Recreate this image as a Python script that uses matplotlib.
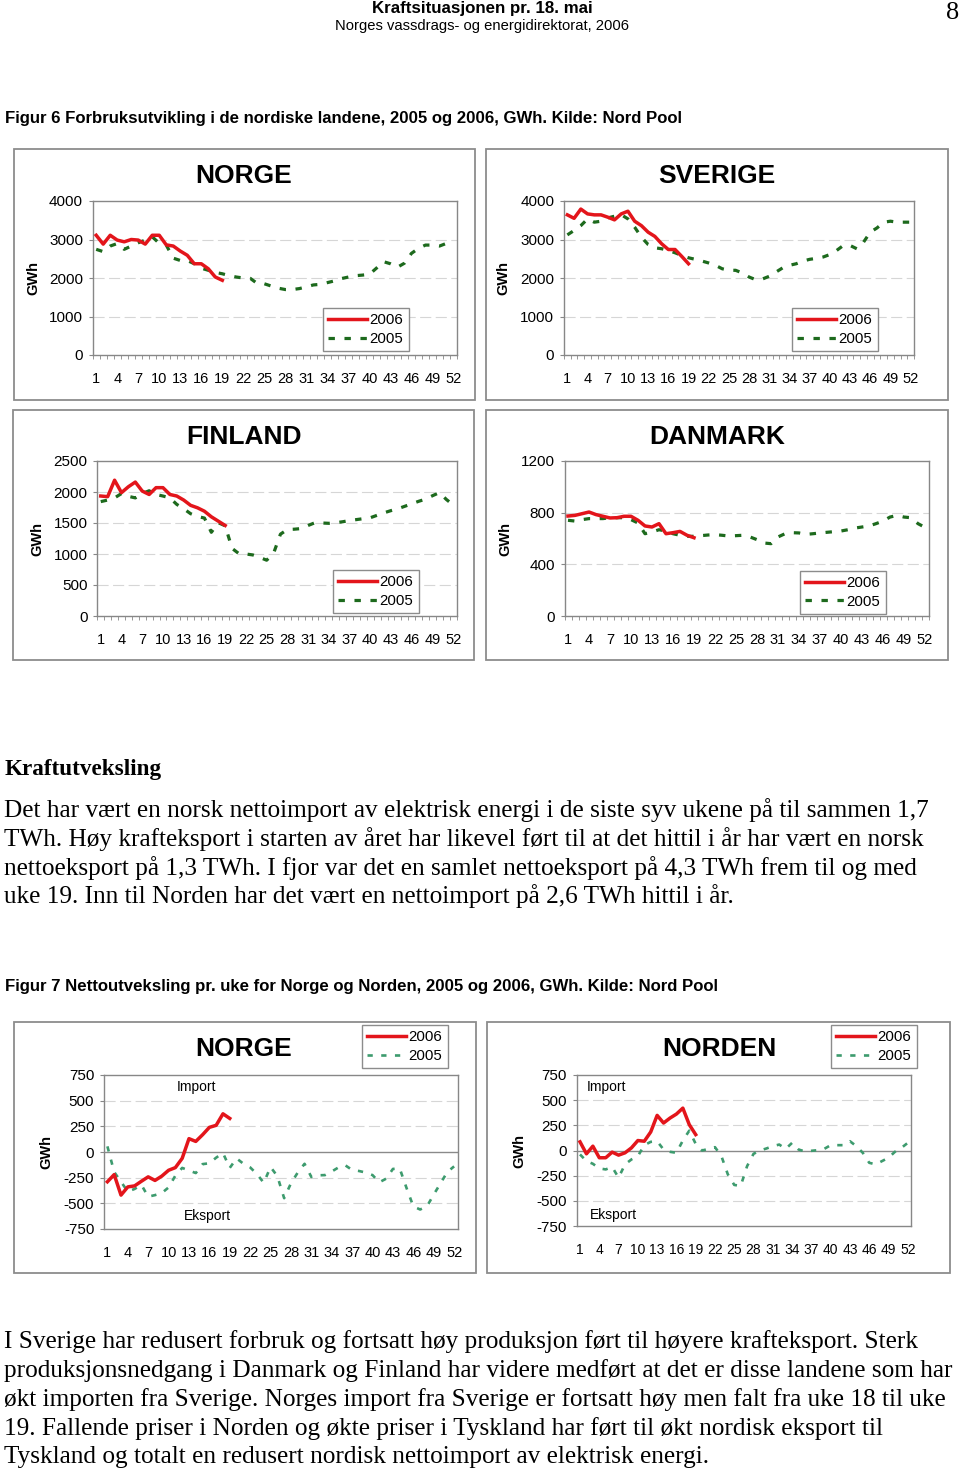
import numpy as np
import matplotlib.pyplot as plt
from matplotlib.patches import Rectangle

W, H = 960, 1474

uker = np.arange(1, 53)
uker_2006 = np.arange(1, 20)
x_ticks = np.arange(1, 53, 3)

# Figur 6: forbruk per uke, GWh
norge_2006 = [3110, 2880, 3110, 2985, 2940, 3000, 2985, 2880, 3110, 3110,
              2860, 2830, 2700, 2590, 2370, 2370, 2240, 2025, 1940]
norge_2005 = [2745, 2685, 2830, 2895, 2745, 2830, 2915, 2985, 3070, 2900,
              2855, 2515, 2455, 2455, 2370, 2255, 2200, 2145, 2110, 2060,
              2025, 2000, 1990, 1855, 1850, 1790, 1735, 1700, 1700, 1725,
              1770, 1820, 1835, 1880, 1925, 1985, 2025, 2060, 2075, 2095,
              2255, 2425, 2370, 2280, 2385, 2640, 2770, 2855, 2855, 2830,
              2900, 2985]

sverige_2006 = [3640, 3550, 3790, 3665, 3640, 3640, 3580, 3510, 3665, 3735,
                3475, 3360, 3190, 3080, 2890, 2740, 2740, 2560, 2370]
sverige_2005 = [3120, 3235, 3360, 3535, 3450, 3475, 3560, 3605, 3645, 3535,
                3320, 3060, 2870, 2785, 2760, 2715, 2655, 2585, 2525, 2485,
                2440, 2390, 2330, 2240, 2200, 2200, 2130, 2025, 1955, 1975,
                2045, 2155, 2265, 2330, 2370, 2440, 2485, 2510, 2545, 2610,
                2715, 2845, 2845, 2760, 2930, 3190, 3300, 3450, 3475, 3450,
                3450, 3450]

finland_2006 = [1935, 1925, 2190, 1990, 2085, 2160, 2015, 1960, 2070, 2070,
                1960, 1935, 1870, 1785, 1745, 1690, 1600, 1530, 1460]
finland_2005 = [1845, 1870, 1905, 1975, 1930, 1905, 1975, 2020, 1960, 1935,
                1905, 1800, 1730, 1650, 1605, 1580, 1350, 1505, 1455, 1090,
                1005, 1000, 985, 945, 900, 1010, 1320, 1395, 1400, 1410,
                1460, 1505, 1500, 1495, 1505, 1520, 1540, 1555, 1570, 1585,
                1625, 1665, 1700, 1730, 1770, 1810, 1850, 1885, 1940, 1990,
                1880, 1790]

danmark_2006 = [774, 779, 792, 805, 785, 772, 759, 761, 772, 772,
                741, 697, 689, 715, 637, 645, 655, 625, 606]
danmark_2005 = [741, 735, 746, 754, 754, 754, 761, 761, 761, 746,
                720, 637, 650, 668, 658, 637, 625, 617, 617, 622,
                627, 630, 625, 619, 622, 625, 612, 591, 565, 560,
                612, 637, 645, 643, 632, 637, 643, 648, 653, 658,
                668, 681, 689, 697, 715, 735, 766, 779, 766, 761,
                715, 686]

# Figur 7: nettoutveksling per uke, GWh
netto_norge_2006 = [-290, -220, -420, -340, -330, -285, -242, -277, -235, -178,
                    -152, -62, 130, 103, 168, 240, 260, 372, 327]
netto_norge_2005 = [55, -195, -290, -385, -360, -320, -435, -420, -400, -345,
                    -230, -155, -180, -205, -118, -110, -55, -10, -155, -62,
                    -114, -150, -215, -300, -146, -235, -450, -305, -200, -115,
                    -243, -227, -225, -190, -150, -130, -175, -185, -200, -225,
                    -295, -260, -165, -160, -350, -530, -560, -530, -415, -305,
                    -195, -140]

netto_norden_2006 = [86, -33, 43, -72, -72, -16, -46, -23, 26, 99,
                     92, 184, 349, 273, 322, 362, 421, 257, 158]
netto_norden_2005 = [-39, -105, -132, -178, -188, -164, -270, -138, -89, -56,
                     53, 86, 92, 10, -13, -23, 99, 197, 66, 0,
                     16, 33, -56, -237, -342, -352, -155, -33, 0, 20,
                     43, 59, 16, 76, 10, -10, -3, 3, 16, 53,
                     53, 53, 92, 43, -23, -122, -138, -105, -72, -13,
                     26, 76]

avsnitt_1 = [
    "Det har vært en norsk nettoimport av elektrisk energi i de siste syv ukene på til sammen 1,7",
    "TWh. Høy krafteksport i starten av året har likevel ført til at det hittil i år har vært en norsk",
    "nettoeksport på 1,3 TWh. I fjor var det en samlet nettoeksport på 4,3 TWh frem til og med",
    "uke 19. Inn til Norden har det vært en nettoimport på 2,6 TWh hittil i år.",
]
avsnitt_2 = [
    "I Sverige har redusert forbruk og fortsatt høy produksjon ført til høyere krafteksport. Sterk",
    "produksjonsnedgang i Danmark og Finland har videre medført at det er disse landene som har",
    "økt importen fra Sverige. Norges import fra Sverige er fortsatt høy men falt fra uke 18 til uke",
    "19. Fallende priser i Norden og økte priser i Tyskland har ført til økt nordisk eksport til",
    "Tyskland og totalt en redusert nordisk nettoimport av elektrisk energi.",
]

RED = '#e3151b'
GREEN = '#1d6a1d'
TEAL = '#3d9b6e'
GRID = '#d6d6d6'
FRAME = '#878787'
SERIF = 'Liberation Serif'
BODY = 18.2

plt.rcParams['font.family'] = 'Liberation Sans'
plt.rcParams['axes.unicode_minus'] = False

fig = plt.figure(figsize=(W / 100, H / 100), dpi=100)


def fx(x):
    return x / W


def fy(y):
    return 1 - y / H


def txt(x, y, s, **kw):
    fig.text(fx(x), fy(y), s, **kw)


def box(l, t, r, b):
    fig.add_artist(Rectangle((fx(l), fy(b)), (r - l) / W, (b - t) / H,
                             transform=fig.transFigure, fill=False,
                             ec='#8c8c8c', lw=1.3))


def panel(rect, yticks, title, title_xy, ylab_x, leg_xy, v05, v06, c05,
          netto=False, xfont=10.5):
    l, t, r, b = rect
    ax = fig.add_axes([fx(l), fy(b), (r - l) / W, (b - t) / H])
    for s in ax.spines.values():
        s.set_color(FRAME)
        s.set_linewidth(1)
    ax.set_xlim(0.5, 52.5)
    ax.set_ylim(yticks[0], yticks[-1])
    ax.set_yticks(yticks)
    ax.set_xticks(x_ticks)
    ax.tick_params(axis='x', which='major', length=0, pad=12, labelsize=xfont)
    ax.tick_params(axis='y', length=3, color=FRAME, pad=4, labelsize=11)
    if netto:
        ax.axhline(0, color='#8a8a8a', lw=1, zorder=1)
        grid_vals = [v for v in yticks[1:-1] if v != 0]
    else:
        ax.set_xticks(np.arange(0.5, 53, 1), minor=True)
        ax.tick_params(axis='x', which='minor', length=3, color=FRAME)
        grid_vals = yticks[1:-1]
    for v in grid_vals:
        ax.axhline(v, color=GRID, lw=0.8, ls=(0, (10, 4)), zorder=0)

    dash = (2.0, 3.0) if not netto else (2.0, 3.2)
    lw05 = 2.3 if not netto else 1.9
    l05, = ax.plot(uker, v05, color=c05, lw=lw05, ls=(0, dash), zorder=2)
    l06, = ax.plot(uker_2006, v06, color=RED, lw=2.5, zorder=3,
                   solid_joinstyle='round')

    ax.set_ylabel('GWh', fontsize=10.5, fontweight='bold')
    ax.yaxis.set_label_coords(fx(ylab_x + 7), fy((t + b) / 2),
                              transform=fig.transFigure)
    ax.text(fx(title_xy[0]), fy(title_xy[1]), title, transform=fig.transFigure,
            ha='center', va='center', fontsize=19, fontweight='bold')

    leg = ax.legend([l06, l05], ['2006', '2005'], loc='upper left',
                    bbox_to_anchor=(fx(leg_xy[0]), fy(leg_xy[1])),
                    bbox_transform=fig.transFigure, borderaxespad=0,
                    fancybox=False, framealpha=1, edgecolor='#8c8c8c',
                    fontsize=10.8, borderpad=0.35, handlelength=2.6,
                    handletextpad=0.15, labelspacing=0.3)
    leg.get_frame().set_linewidth(1)
    return ax


# topptekst
txt(482, 8, "Kraftsituasjonen pr. 18. mai", ha='center', va='center',
    fontsize=12.2, fontweight='bold')
txt(482, 26, "Norges vassdrags- og energidirektorat, 2006", ha='center',
    va='center', fontsize=10.6)
txt(953, 13, "8", ha='center', va='center', fontsize=19, family=SERIF)

txt(5, 119, "Figur 6 Forbruksutvikling i de nordiske landene, 2005 og 2006, GWh. Kilde: Nord Pool",
    ha='left', va='center', fontsize=12.1, fontweight='bold')

box(14, 149, 475, 400)
box(486, 149, 948, 400)
box(13, 410, 474, 660)
box(486, 410, 948, 660)

panel((92.7, 201, 457, 355), [0, 1000, 2000, 3000, 4000], 'NORGE', (244, 176),
      33, (323, 308), norge_2005, norge_2006, GREEN)
panel((564, 201, 914, 355), [0, 1000, 2000, 3000, 4000], 'SVERIGE', (717, 176),
      503, (792, 308), sverige_2005, sverige_2006, GREEN)
panel((97.3, 461, 456.7, 616), [0, 500, 1000, 1500, 2000, 2500], 'FINLAND',
      (244, 437), 37, (333, 570), finland_2005, finland_2006, GREEN)
panel((564.5, 461, 928.5, 616), [0, 400, 800, 1200], 'DANMARK', (717, 437),
      505, (800, 571), danmark_2005, danmark_2006, GREEN)

# brødtekst
txt(5, 769, "Kraftutveksling", ha='left', va='center', fontsize=16.7,
    fontweight='bold', family=SERIF)
for i, linje in enumerate(avsnitt_1):
    txt(4, 810 + i * 28.8, linje, ha='left', va='center', fontsize=BODY,
        family=SERIF)

txt(5, 987, "Figur 7 Nettoutveksling pr. uke for Norge og Norden, 2005 og 2006, GWh. Kilde: Nord Pool",
    ha='left', va='center', fontsize=12.1, fontweight='bold')

box(14, 1022, 476, 1273)
box(487, 1022, 950, 1273)

nett_ticks = [-750, -500, -250, 0, 250, 500, 750]
a1 = panel((104, 1075, 457.5, 1229), nett_ticks, 'NORGE', (244, 1049), 46,
           (362, 1025), netto_norge_2005, netto_norge_2006, TEAL, netto=True)
a1.text(fx(196), fy(1087), 'Import', transform=fig.transFigure, ha='center',
        va='center', fontsize=10)
a1.text(fx(207), fy(1216), 'Eksport', transform=fig.transFigure, ha='center',
        va='center', fontsize=10)

a2 = panel((576.8, 1075, 911, 1226), nett_ticks, 'NORDEN', (719, 1049), 519,
           (831, 1025), netto_norden_2005, netto_norden_2006, TEAL, netto=True,
           xfont=10)
a2.text(fx(606), fy(1087), 'Import', transform=fig.transFigure, ha='center',
        va='center', fontsize=10)
a2.text(fx(613), fy(1215), 'Eksport', transform=fig.transFigure, ha='center',
        va='center', fontsize=10)

for i, linje in enumerate(avsnitt_2):
    txt(4, 1342 + i * 28.8, linje, ha='left', va='center', fontsize=BODY,
        family=SERIF)

fig.savefig('out.png', dpi=100)
